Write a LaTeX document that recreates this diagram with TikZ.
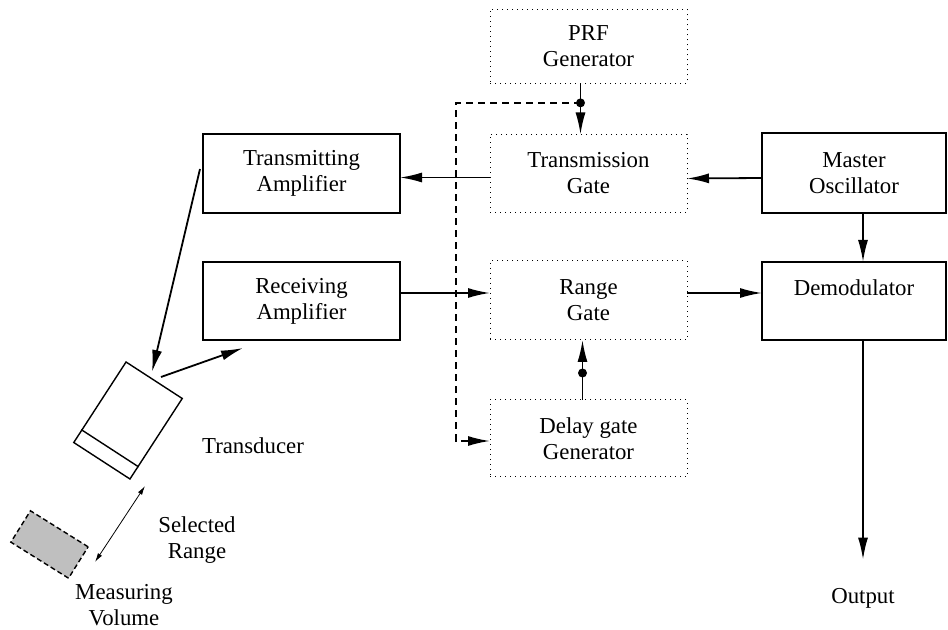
\documentclass[tikz,border=0pt]{standalone}
\usepackage{fontspec}
\setmainfont{Liberation Serif}
\usetikzlibrary{arrows.meta,calc}
\begin{document}
\begin{tikzpicture}[x=0.5pt,y=-0.5pt,
  font=\fontsize{11.4}{13}\selectfont,
  solidbox/.style={draw, line width=0.9pt, align=center, inner sep=0pt, outer sep=0pt},
  dotbox/.style={draw, line width=0.5pt, dotted, align=center, inner sep=0pt, outer sep=0pt},
  wide/.style={minimum width=98.5pt},
  narrow/.style={minimum width=92pt},
  arr/.style={line width=0.9pt, -{Latex[length=11pt,width=5pt]}},
  thinarr/.style={line width=0.4pt, {Latex[length=4.5pt,width=2.4pt]}-{Latex[length=4.5pt,width=2.4pt]}},
  dash line/.style={line width=0.9pt, dash pattern=on 3.5pt off 2.5pt},
  dot/.style={circle, fill, inner sep=0pt, minimum size=4.5pt},
  lbl/.style={align=center, inner sep=0pt}]
\useasboundingbox (0,0) rectangle (948,630);

% signal-processing blocks
\node[dotbox, wide, minimum height=37pt] (prf) at (588.5,46.5) {PRF\\Generator};
\node[dotbox, wide, minimum height=39pt] (tg) at (588.5,173.5) {Transmission\\Gate};
\node[dotbox, wide, minimum height=39.5pt] (rg) at (588.5,300.5) {Range\\Gate};
\node[dotbox, wide, minimum height=38.5pt] (dg) at (588.5,438.5) {Delay gate\\Generator};

\node[solidbox, wide, minimum height=39.5pt] (ta) at (301.5,173.5) {Transmitting\\Amplifier};
\node[solidbox, wide, minimum height=39pt] (ra) at (301.5,301) {Receiving\\Amplifier};

\node[solidbox, narrow, minimum height=40pt] (mo) at (854,173) {Master\\Oscillator};
\node[solidbox, narrow, minimum height=39pt] (dm) at (854,301) {Demodulator\\\mbox{}};

% probe and sample volume
\node[draw, line width=0.7pt, rotate=-33, minimum width=33.5pt, minimum height=48pt,
      inner sep=0pt] (td) at (128,420.5) {};
\draw[line width=0.7pt] ($(td.south west)!0.16!(td.north west)$) -- ($(td.south east)!0.16!(td.north east)$);
\node[draw, line width=0.7pt, dash pattern=on 2.5pt off 1.5pt, fill=black!25, rotate=-32,
      minimum width=34pt, minimum height=18.5pt, inner sep=0pt] (mv) at (49.5,544.5) {};

% free labels
\node[lbl] (tdl) at (253,446) {Transducer};
\node[lbl] (srl) at (197,540) {Selected\\Range};
\node[lbl] (mvl) at (124,605) {Measuring\\Volume};
\node[lbl] (outl) at (863,598) {Output};

% connector end points near the probe
\coordinate (tain) at ([xshift=-1.5pt,yshift=2.25pt]ta.west);
\coordinate (tdin) at (152,372);
\coordinate (tdout) at (161,377);
\coordinate (rain) at (243,348);
\coordinate (sra) at (95,562);
\coordinate (srb) at (145,486);

% signal paths
\draw[arr] ([yshift=-2pt]tg.west) -- ([yshift=-2pt]ta.east);
\draw[arr] ([yshift=-2.5pt]mo.west) -- ([yshift=-2.5pt]tg.east);
\draw[arr] ([yshift=4pt]ra.east) -- ([yshift=3.75pt]rg.west);
\draw[arr] ([yshift=3.75pt]rg.east) -- ([yshift=4pt]dm.west);
\draw[arr] ([xshift=4.5pt]mo.south) -- ([xshift=4.5pt]dm.north);
\draw[arr, shorten >=14pt] ([xshift=4.5pt]dm.south) -- (outl.north);
\draw[arr] (tain) -- (tdin);
\draw[arr] (tdout) -- (rain);
\draw[thinarr] (sra) -- (srb);

% pulse timing paths
\draw[arr] ([xshift=-4pt]prf.south) -- node[pos=0.38, dot] (pd) {} ([xshift=-4pt]tg.north);
\draw[arr] ([xshift=-3pt]dg.north) -- node[pos=0.45, dot] (dd) {} ([xshift=-3pt]rg.south);
\draw[dash line, -{Latex[length=11pt,width=5pt]}] (pd.center) -| (456,441) -- ([yshift=-1.25pt]dg.west);
\end{tikzpicture}
\end{document}
